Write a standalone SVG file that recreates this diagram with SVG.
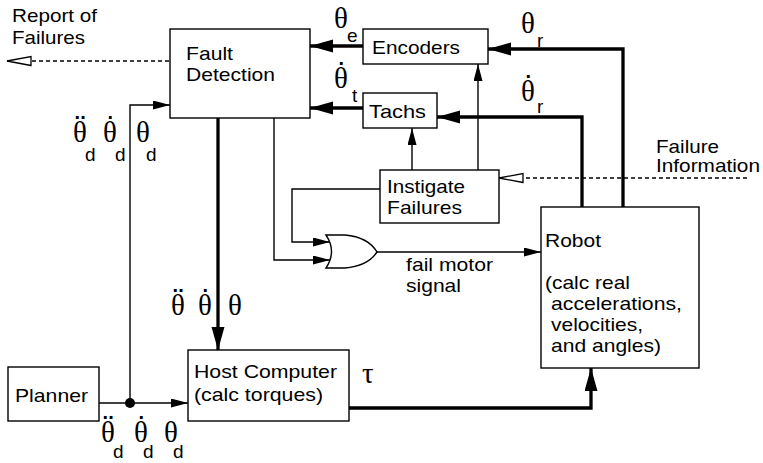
<svg xmlns="http://www.w3.org/2000/svg" width="763" height="463" viewBox="0 0 763 463">
<style>
.box{fill:#fff;stroke:#000;stroke-width:1.4}
.thin{fill:none;stroke:#000;stroke-width:1.4}
.thick{fill:none;stroke:#000;stroke-width:3.3}
.dash{fill:none;stroke:#000;stroke-width:1.3;stroke-dasharray:4,3}
.t{font-family:"Liberation Sans",Arial,sans-serif;font-size:19px;fill:#000}
.g{font-family:"Liberation Serif","Times New Roman",serif;font-size:29px;fill:#000}
.dot{font-family:"Liberation Sans",Arial,sans-serif;font-size:20px;font-weight:bold}
.sub{font-family:"Liberation Sans",Arial,sans-serif;font-size:19px}
</style>
<defs>
<marker id="aThin" markerUnits="userSpaceOnUse" markerWidth="18" markerHeight="10" refX="17" refY="4.5" orient="auto">
<path d="M0,0 L17,4.5 L0,9 Z" fill="#000"/>
</marker>
<marker id="aThick" markerUnits="userSpaceOnUse" markerWidth="24" markerHeight="14" refX="23" refY="6.5" orient="auto">
<path d="M0,0 L23,6.5 L0,13 Z" fill="#000"/>
</marker>
<marker id="aOpen" markerUnits="userSpaceOnUse" markerWidth="27" markerHeight="12" refX="25" refY="5.5" orient="auto">
<path d="M1,1 L25,5.5 L1,10 Z" fill="#fff" stroke="#000" stroke-width="1.3"/>
</marker>
</defs>

<g id="connectors">
<path class="dash" d="M169,61 L7,61" marker-end="url(#aOpen)"/>
<path class="dash" d="M747,178 L499,178" marker-end="url(#aOpen)"/>
<path class="thick" d="M363,46 L310,46" marker-end="url(#aThick)"/>
<path class="thick" d="M363,108 L310,108" marker-end="url(#aThick)"/>
<path class="thick" d="M623,207 L623,49 L488,49" marker-end="url(#aThick)"/>
<path class="thick" d="M582,207 L582,117 L437,117" marker-end="url(#aThick)"/>
<path class="thick" d="M218,118 L218,350" marker-end="url(#aThick)"/>
<path class="thick" d="M349,408 L591,408 L591,368" marker-end="url(#aThick)"/>
<path class="thin" d="M412,170 L412,128" marker-end="url(#aThin)"/>
<path class="thin" d="M478,170 L478,64" marker-end="url(#aThin)"/>
<path class="thin" d="M380,189 L292,189 L292,242 L330,242" marker-end="url(#aThin)"/>
<path class="thin" d="M274,118 L274,260 L330,260" marker-end="url(#aThin)"/>
<path class="thin" d="M377,252 L541,252" marker-end="url(#aThin)"/>
<path class="thin" d="M99,403 L188,403" marker-end="url(#aThin)"/>
<path class="thin" d="M130,403 L130,105 L170,105" marker-end="url(#aThin)"/>
<circle cx="130" cy="403" r="5" fill="#000"/>
</g>

<g id="or-gate">
<path class="thin" fill="#fff" d="M326,235 L345,235 Q368,237 377,252 Q368,266 345,268 L326,268 Q337,251.5 326,235 Z"/>
</g>

<g id="fault-detection">
<rect class="box" x="170" y="29" width="140" height="89"/>
<text class="t" x="186" y="60" textLength="47" lengthAdjust="spacingAndGlyphs">Fault</text>
<text class="t" x="186" y="81" textLength="89" lengthAdjust="spacingAndGlyphs">Detection</text>
</g>

<g id="encoders">
<rect class="box" x="363" y="29" width="125" height="35"/>
<text class="t" x="372" y="54" textLength="88" lengthAdjust="spacingAndGlyphs">Encoders</text>
</g>

<g id="tachs">
<rect class="box" x="363" y="93" width="74" height="35"/>
<text class="t" x="369" y="118" textLength="57" lengthAdjust="spacingAndGlyphs">Tachs</text>
</g>

<g id="instigate-failures">
<rect class="box" x="380" y="170" width="119" height="53"/>
<text class="t" x="387" y="193" textLength="78" lengthAdjust="spacingAndGlyphs">Instigate</text>
<text class="t" x="387" y="214" textLength="75" lengthAdjust="spacingAndGlyphs">Failures</text>
</g>

<g id="robot">
<rect class="box" x="541" y="207" width="158" height="161"/>
<text class="t" x="545" y="247" textLength="56" lengthAdjust="spacingAndGlyphs">Robot</text>
<text class="t" x="545" y="289" textLength="85" lengthAdjust="spacingAndGlyphs">(calc real</text>
<text class="t" x="551" y="310" textLength="131" lengthAdjust="spacingAndGlyphs">accelerations,</text>
<text class="t" x="551" y="331" textLength="92" lengthAdjust="spacingAndGlyphs">velocities,</text>
<text class="t" x="551" y="352" textLength="110" lengthAdjust="spacingAndGlyphs">and angles)</text>
</g>

<g id="host-computer">
<rect class="box" x="188" y="350" width="161" height="71"/>
<text class="t" x="194" y="378" textLength="143" lengthAdjust="spacingAndGlyphs">Host Computer</text>
<text class="t" x="194" y="401" textLength="129" lengthAdjust="spacingAndGlyphs">(calc torques)</text>
</g>

<g id="planner">
<rect class="box" x="8" y="367" width="91" height="54"/>
<text class="t" x="15" y="402" textLength="73" lengthAdjust="spacingAndGlyphs">Planner</text>
</g>

<g id="labels">
<text class="t" x="12" y="22" textLength="85" lengthAdjust="spacingAndGlyphs">Report of</text>
<text class="t" x="12" y="44" textLength="73" lengthAdjust="spacingAndGlyphs">Failures</text>
<text class="t" x="656" y="153" textLength="63" lengthAdjust="spacingAndGlyphs">Failure</text>
<text class="t" x="656" y="172" textLength="104" lengthAdjust="spacingAndGlyphs">Information</text>
<text class="t" x="406" y="271" textLength="87" lengthAdjust="spacingAndGlyphs">fail motor</text>
<text class="t" x="406" y="292" textLength="55" lengthAdjust="spacingAndGlyphs">signal</text>

<text class="g" x="334" y="28">&#x3B8;<tspan class="sub" x="347" y="42">e</tspan></text>
<text class="g" x="334" y="88">&#x3B8;<tspan class="dot" x="338.5" y="65">.</tspan><tspan class="sub" x="352" y="102">t</tspan></text>
<text class="g" x="521" y="33">&#x3B8;<tspan class="sub" x="537" y="47">r</tspan></text>
<text class="g" x="521" y="101">&#x3B8;<tspan class="dot" x="525.5" y="78">.</tspan><tspan class="sub" x="537" y="113">r</tspan></text>

<text class="g" x="73" y="142">&#x3B8;<tspan class="dot" x="74.6" y="119">..</tspan><tspan class="sub" x="85" y="161">d</tspan></text>
<text class="g" x="103" y="142">&#x3B8;<tspan class="dot" x="107.5" y="119">.</tspan><tspan class="sub" x="115" y="161">d</tspan></text>
<text class="g" x="136" y="142">&#x3B8;<tspan class="sub" x="146" y="161">d</tspan></text>

<text class="g" x="171" y="315">&#x3B8;<tspan class="dot" x="172.6" y="292">..</tspan></text>
<text class="g" x="198" y="315">&#x3B8;<tspan class="dot" x="202.5" y="292">.</tspan></text>
<text class="g" x="228" y="315">&#x3B8;</text>

<text class="g" x="101" y="442">&#x3B8;<tspan class="dot" x="102.6" y="419">..</tspan><tspan class="sub" x="113" y="458">d</tspan></text>
<text class="g" x="134" y="442">&#x3B8;<tspan class="dot" x="138.5" y="419">.</tspan><tspan class="sub" x="143" y="458">d</tspan></text>
<text class="g" x="164" y="442">&#x3B8;<tspan class="sub" x="173" y="458">d</tspan></text>

<text class="g" x="362" y="383">&#x3C4;</text>
</g>
</svg>
